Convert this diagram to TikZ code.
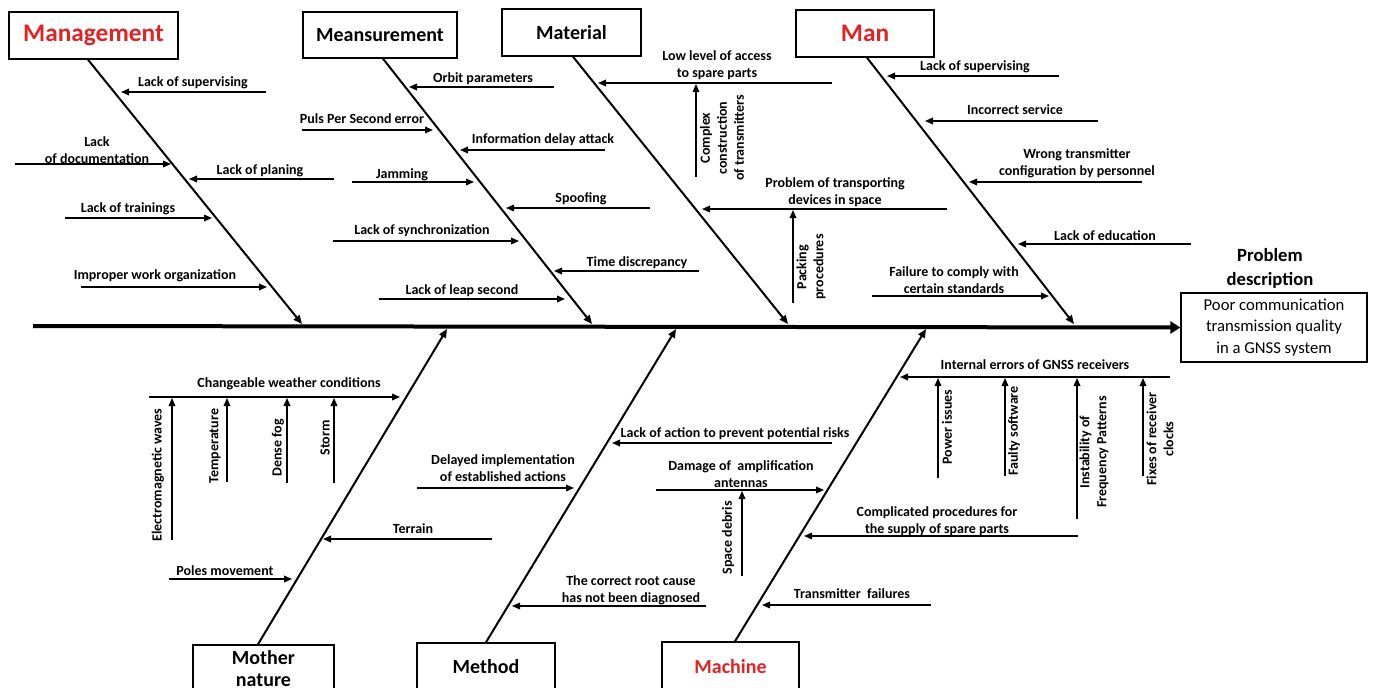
\documentclass[tikz,border=0pt]{standalone}
\usepackage{fontspec}
\setmainfont{Carlito}
\usetikzlibrary{arrows.meta,calc}
\definecolor{hdrred}{RGB}{226,35,35}
\begin{document}
\begin{tikzpicture}[x=0.75pt,y=-0.75pt,
  lbl/.style={font=\bfseries\fontsize{10.5}{12.75}\selectfont,align=center,inner sep=0pt},
  rlbl/.style={lbl,rotate=90},
  hdr/.style={draw,line width=1.1pt,font=\bfseries\fontsize{15}{17}\selectfont,align=center,inner sep=0pt},
  bighdr/.style={hdr,font=\bfseries\fontsize{19}{21}\selectfont,text=hdrred},
  sub/.style={line width=1pt,-{Triangle[length=6pt,width=5pt]}},
  bone/.style={line width=1.5pt,-{Triangle[length=6.5pt,width=5.5pt]}},
  spine/.style={line width=3pt,-{Triangle[length=7.5pt,width=9pt]}}]
\useasboundingbox (0,0) rectangle (1373,688);
\clip (0,0) rectangle (1373,688);
\fill[white] (0,0) rectangle (1373,688);

% spine
\coordinate (spineL) at (33,326);
\node[draw,line width=0.9pt,minimum width=186*0.75pt,minimum height=69*0.75pt,inner sep=0pt,align=center,
  font=\fontsize{12.5}{16.3}\selectfont] (prob) at (1274,327.5)
  {Poor communication\\transmission quality\\in a GNSS system};
\node[lbl,font=\bfseries\fontsize{14}{18}\selectfont] (probt) at (1270,268) {Problem\\description};
\draw[spine] (spineL) -- (prob.west);

% header boxes
\node[bighdr,minimum width=169*0.75pt,minimum height=47*0.75pt] (mgmt) at (93.5,35.5) {Management};
\node[hdr,minimum width=154*0.75pt,minimum height=46*0.75pt] (meas) at (380,35) {Meansurement};
\node[hdr,minimum width=139*0.75pt,minimum height=47*0.75pt] (mat) at (571.5,32.5) {Material};
\node[bighdr,minimum width=138*0.75pt,minimum height=47*0.75pt] (man) at (865,33.5) {Man};
\node[hdr,minimum width=141*0.75pt,minimum height=47*0.75pt] (mother) at (263.5,668.5) {Mother\\nature};
\node[hdr,minimum width=138*0.75pt,minimum height=48*0.75pt] (method) at (486,667) {Method};
\node[hdr,text=hdrred,minimum width=137*0.75pt,minimum height=50*0.75pt] (machine) at (730.5,667) {Machine};

% bones
\coordinate (mgmtE) at (302,324);
\coordinate (measE) at (592,324);
\coordinate (matE) at (788,324);
\coordinate (manE) at (1074,324);
\coordinate (motherE) at (447,329);
\coordinate (methodE) at (676,329);
\coordinate (machineE) at (926,329);
\draw[bone] ($(mgmt.south)+(-5.5,0)$) -- (mgmtE);
\draw[bone] ($(meas.south)+(3,0)$) -- (measE);
\draw[bone] ($(mat.south)+(1.5,0)$) -- (matE);
\draw[bone] ($(man.south)+(2,0)$) -- (manE);
\draw[bone] ($(mother.north)+(-5.5,0)$) -- (motherE);
\draw[bone] (method.north) -- (methodE);
\draw[bone] ($(machine.north)+(4.5,0)$) -- (machineE);

% Management
\node[lbl] (m1) at (193,83) {Lack of supervising};
\draw[sub] (266,92) -- (121,92);
\node[lbl] (m2) at (97,150.5) {Lack\\of documentation};
\draw[sub] (15,164) -- (171,164);
\node[lbl] (m3) at (260,171) {Lack of planing};
\draw[sub] (334,179) -- (189,179);
\node[lbl] (m4) at (128,209) {Lack of trainings};
\draw[sub] (65,218) -- (212,218);
\node[lbl] (m5) at (155,276) {Improper work organization};
\draw[sub] (81,287) -- (267,287);

% Meansurement
\node[lbl] (s1) at (483,79) {Orbit parameters};
\draw[sub] (554,87) -- (409,87);
\node[lbl] (s2) at (362,119) {Puls Per Second error};
\draw[sub] (302,130) -- (433,130);
\node[lbl] (s3) at (543,140) {Information delay attack};
\draw[sub] (605,150) -- (460,150);
\node[lbl] (s4) at (402,175) {Jamming};
\draw[sub] (352,182) -- (474,182);
\node[lbl] (s5) at (581,199) {Spoofing};
\draw[sub] (650,208) -- (506,208);
\node[lbl] (s6) at (422,231) {Lack of synchronization};
\draw[sub] (333,241) -- (519,241);
\node[lbl] (s7) at (637,263) {Time discrepancy};
\draw[sub] (699,271) -- (554,271);
\node[lbl] (s8) at (462,291) {Lack of leap second};
\draw[sub] (379,299) -- (565,299);

% Material
\node[lbl] (t1) at (717,65.5) {Low level of access\\to spare parts};
\draw[sub] (832,83) -- (598,83);
\node[rlbl] (t2) at (722,138) {Complex\\construction\\of transmitters};
\draw[sub] (696,177) -- (696,84);
\node[lbl] (t3) at (835,192.5) {Problem of transporting\\devices in space};
\draw[sub] (947,209) -- (702,209);
\node[rlbl] (t4) at (811,267) {Packing\\procedures};
\draw[sub] (793,303) -- (793,210);

% Man
\node[lbl] (n1) at (975,67) {Lack of supervising};
\draw[sub] (1059,76) -- (887,76);
\node[lbl] (n2) at (1015,110) {Incorrect service};
\draw[sub] (1098,121) -- (925,121);
\node[lbl] (n3) at (1077,163.5) {Wrong transmitter\\configuration by personnel};
\draw[sub] (1142,182) -- (969,182);
\node[lbl] (n4) at (1105,236) {Lack of education};
\draw[sub] (1191,244) -- (1018,244);
\node[lbl] (n5) at (954,280.5) {Failure to comply with\\certain standards};
\draw[sub] (872,296) -- (1049,296);

% Mother nature
\node[lbl] (o1) at (289,384) {Changeable weather conditions};
\draw[sub] (149,397) -- (400,397);
\node[rlbl] (o2) at (158,475) {Electromagnetic waves};
\draw[sub] (172,540) -- (172,398);
\node[rlbl] (o3) at (215,446) {Temperature};
\draw[sub] (227,482) -- (227,398);
\node[rlbl] (o4) at (278,448) {Dense fog};
\draw[sub] (287,483) -- (287,398);
\node[rlbl] (o5) at (325,438) {Storm};
\draw[sub] (334,483) -- (334,398);
\node[lbl] (o6) at (413,529) {Terrain};
\draw[sub] (492,539) -- (323,539);
\node[lbl] (o7) at (225,571) {Poles movement};
\draw[sub] (169,579) -- (292,579);

% Method
\node[lbl] (d1) at (503,468) {Delayed implementation\\of established actions};
\draw[sub] (417,488) -- (574,488);
\node[lbl] (d2) at (735,434) {Lack of action to prevent potential risks};
\draw[sub] (832,443) -- (612,443);
\node[lbl] (d3) at (631,590.5) {The correct root cause\\has not been diagnosed};
\draw[sub] (706,606) -- (512,606);

% Machine
\node[lbl] (c1) at (741,474.5) {Damage of\ \ amplification\\antennas};
\draw[sub] (656,490) -- (824,490);
\node[rlbl] (c2) at (728,538) {Space debris};
\draw[sub] (742,576) -- (742,491);
\node[lbl] (c3) at (1035,365) {Internal errors of GNSS receivers};
\draw[sub] (1170,377) -- (900,377);
\node[rlbl] (c4) at (947,427) {Power issues};
\draw[sub] (938,478) -- (938,378);
\node[rlbl] (c5) at (1014,431) {Faulty software};
\draw[sub] (1005,476) -- (1005,378);
\node[rlbl] (c6) at (1094,452) {Instability of\\Frequency Patterns};
\draw[sub] (1077,519) -- (1077,378);
\node[rlbl] (c7) at (1160,439) {Fixes of receiver\\clocks};
\draw[sub] (1143,476) -- (1143,378);
\node[lbl] (c8) at (937,521.5) {Complicated procedures for\\the supply of spare parts};
\draw[sub] (1078,536) -- (804,536);
\node[lbl] (c9) at (852,594) {Transmitter\ \ failures};
\draw[sub] (931,605) -- (762,605);
\end{tikzpicture}
\end{document}
